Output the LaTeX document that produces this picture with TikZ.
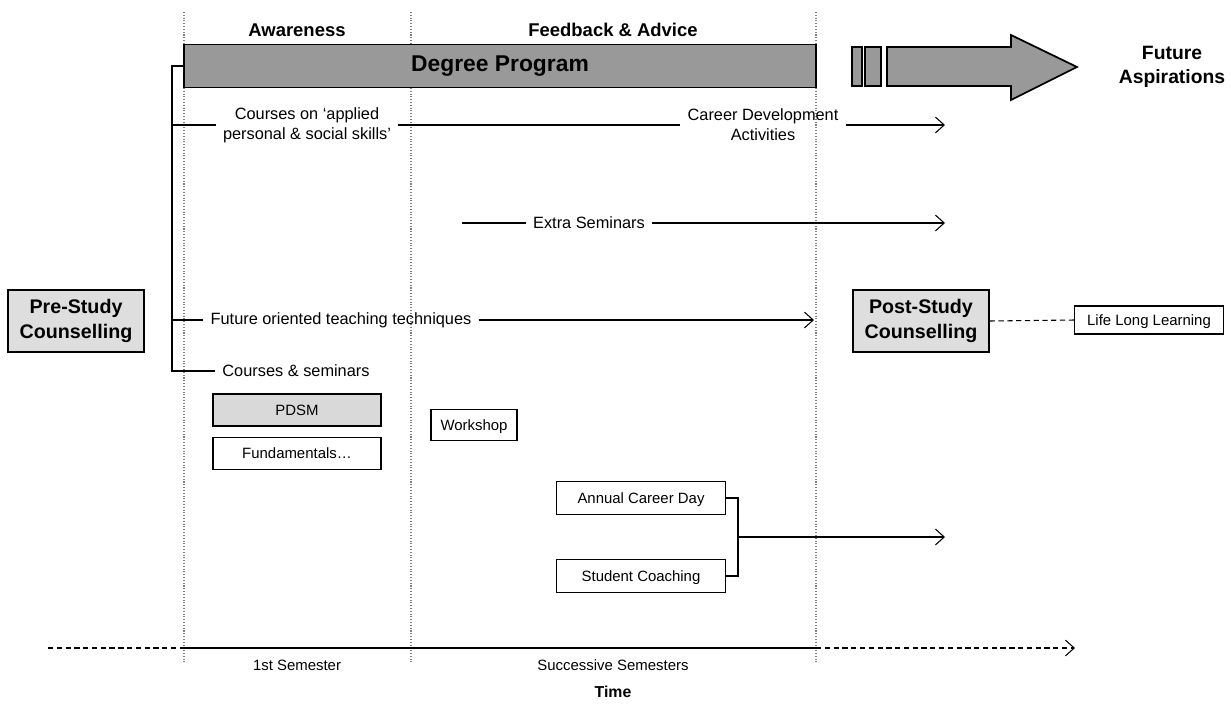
\documentclass[tikz,border=0pt]{standalone}
\usepackage{fontspec}
\setmainfont{Liberation Sans}
\usetikzlibrary{arrows.meta,positioning}

\begin{document}
\begin{tikzpicture}[%
    x=0.02cm, y=-0.02cm,
    >={Straight Barb[length=5pt,width=9pt]},
    node distance=0.2cm,
    txt/.style={font=\fontsize{9.3}{11.5}\selectfont, inner sep=4pt, align=center},
    hdr/.style={font=\bfseries\fontsize{10.5}{12.5}\selectfont},
    box/.style={draw, line width=0.6pt, font=\fontsize{8.5}{10}\selectfont,
      minimum width=3.36cm, minimum height=0.64cm, inner sep=0pt,
      text height=1.6ex, text depth=0.4ex},
    counsel/.style={draw, line width=0.8pt, fill=black!13, align=center,
      font=\bfseries\fontsize{11.2}{14}\selectfont,
      minimum width=2.72cm, minimum height=1.24cm, inner sep=0pt},
    phase/.style={black!50, densely dotted, line width=0.6pt},
    bar/.style={draw, line width=1pt, fill=black!40},
  ]
    \useasboundingbox (0,0) rectangle (1231,704);

    % semester borders
    \foreach \x/\n in {184/a,411/b,816/c} {
      \coordinate (top\n) at (\x,12);
      \coordinate (bot\n) at (\x,662);
      \draw[phase] (top\n) -- (bot\n);
    }

    \node[hdr] (aware) at (297,30) {Awareness};
    \node[hdr] (feed)  at (613,30) {Feedback \& Advice};

    \node[bar, minimum width=12.64cm, minimum height=0.86cm, inner sep=0pt,
      text height=1.6ex, text depth=0.4ex,
      font=\bfseries\fontsize{13}{15}\selectfont] (degree) at (500,66) {Degree Program};

    % broken arrow to the future
    \draw[bar] (852,47) rectangle (862,86);
    \draw[bar] (865,47) rectangle (881,86);
    \draw[bar] (887,47) -- (1011,47) -- (1011,35) -- (1077,67)
      -- (1011,100) -- (1011,86) -- (887,86) -- cycle;
    \node[font=\bfseries\fontsize{11}{14}\selectfont, align=center] (future)
      at (1172,67) {Future\\Aspirations};

    % activities
    \node[txt] (applied) at (307,125) {Courses on ‘applied\\personal \& social skills’};
    \node[txt] (career)  at (763,125) {Career Development\\Activities};
    \node[txt] (extra)   at (589,223) {Extra Seminars};
    \node[txt] (oriented) at (341,320) {Future oriented teaching techniques};
    \node[txt] (courses) at (296,371) {Courses \& seminars};

    \node[counsel] (pre)  at (76,321)  {Pre-Study\\Counselling};
    \node[counsel] (post) at (921,321) {Post-Study\\Counselling};
    \node[box, minimum width=2.98cm, minimum height=0.56cm] (lll) at (1149,320) {Life Long Learning};

    \node[box, fill=black!15] (pdsm) at (297,410) {PDSM};
    \node[box] (fund) [below=of pdsm] {Fundamentals…};
    \node[box, minimum width=1.72cm, minimum height=0.62cm] (work) at (474,425) {Workshop};
    \node[box, minimum width=3.38cm, minimum height=0.66cm] (acd) at (641,498) {Annual Career Day};
    \node[box, minimum width=3.38cm, minimum height=0.66cm] (coach) at (641,576) {Student Coaching};

    \coordinate (br)    at (172,0);
    \coordinate (xstart) at (462,223);
    \coordinate (e1) at (945,125);
    \coordinate (e2) at (945,223);
    \coordinate (e3) at (814,320);
    \coordinate (join) at (738,537);
    \coordinate (e4) at (945,537);

    % bracket from the degree program
    \draw[line width=0.8pt] (degree.west) -- (br |- degree.west) |- (courses.west);
    \draw[line width=0.6pt] (br |- applied.west) -- (applied.west)
      (br |- oriented.west) -- (oriented.west);

    \path[->, line width=0.6pt]
    (applied.east) edge[-] (career.west)
    (career.east) edge (e1)
    (xstart) edge[-] (extra.west)
    (extra.east) edge (e2)
    (oriented.east) edge (e3)
    (join) edge (e4)
    ;
    \draw[line width=0.6pt] (acd.east) -| (join) |- (coach.east);
    \draw[densely dashed, line width=0.6pt] (post.east) -- (lll.west);

    % time line
    \coordinate (t0) at (48,648);
    \coordinate (t1) at (184,648);
    \coordinate (t2) at (816,648);
    \coordinate (t3) at (1075,648);
    \draw[densely dashed, line width=0.6pt] (t0) -- (t1);
    \draw[line width=1.1pt] (t1) -- (t2);
    \draw[densely dashed, line width=0.6pt, ->] (t2) -- (t3);

    \node[font=\fontsize{8.5}{10}\selectfont] (sem1) at (297,665) {1st Semester};
    \node[font=\fontsize{8.5}{10}\selectfont] (semn) at (613,665) {Successive Semesters};
    \node[font=\bfseries\fontsize{9}{10}\selectfont] (time) at (613,692) {Time};
  \end{tikzpicture}
\end{document}
